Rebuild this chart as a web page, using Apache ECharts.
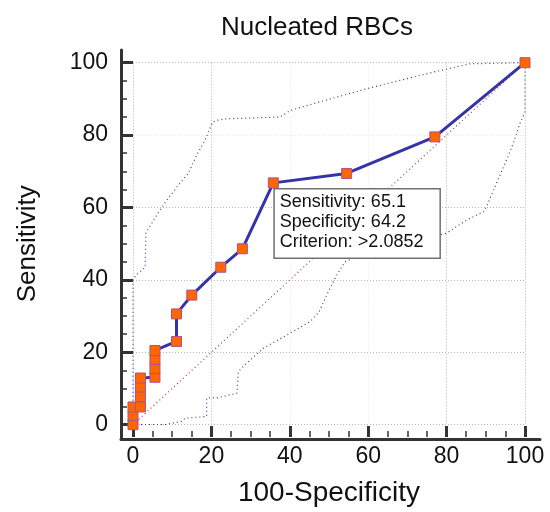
<!DOCTYPE html>
<html>
<head>
<meta charset="utf-8">
<script src="https://cdn.jsdelivr.net/npm/echarts@6/dist/echarts.min.js"></script>
<style>
html,body{margin:0;padding:0;background:#fff;}
#chart{width:550px;height:512px;}
</style>
</head>
<body>
<div id="chart"></div>
<script>
// ---- data ----
const titleText = 'Nucleated RBCs';
const xName = '100-Specificity';
const yName = 'Sensitivity';
const tickValues = [0, 20, 40, 60, 80, 100];

// ROC curve points (100-Specificity, Sensitivity)
const rocX = [0, 0, 0, 1.9, 1.9, 1.9, 1.9, 5.6, 5.6, 5.6, 5.6, 11.1, 11.1, 15.0, 22.4, 27.9, 35.8, 54.5, 77.0, 100];
const rocY = [0, 2.5, 4.9, 4.9, 7.8, 10.4, 12.9, 13.1, 15.5, 18.0, 20.5, 23.0, 30.6, 35.8, 43.5, 48.6, 66.8, 69.4, 79.5, 100];

// upper confidence bound
const upperX = [0, 0, 0.9, 3.1, 3.2, 3.3, 5.9, 6.9, 8.6, 11.6, 14.1, 16.2, 18.4, 20.3, 21.4, 23.9, 37.5, 40.1, 47.7, 59.6, 68.1, 76.6, 86.0, 100];
const upperY = [0, 40, 41.4, 43.5, 48.5, 53.0, 57.6, 59.3, 62.0, 66.2, 69.4, 74.4, 78.6, 83.6, 84.1, 84.5, 85.0, 86.8, 89.2, 92.8, 95.1, 97.4, 99.7, 100];

// lower confidence bound
const lowerX = [0, 8.0, 12.4, 13.3, 18.8, 18.8, 21.4, 26.5, 26.9, 29.0, 33.2, 40.1, 45.2, 47.5, 49.4, 52.0, 54.1, 57.1, 65.0, 72.0, 80.0, 85.1, 89.4, 90.2, 92.3, 94.9, 97.0, 98.7, 100, 100];
const lowerY = [0, 0, 0.9, 1.8, 2.3, 7.4, 7.4, 8.7, 14.7, 17.0, 21.1, 25.3, 28.5, 31.2, 35.8, 41.4, 45.0, 46.4, 48.5, 50.7, 52.9, 56.5, 58.8, 60.2, 65.7, 72.1, 77.7, 83.2, 86.4, 100];

// reference diagonal
const diagX = [0, 100];
const diagY = [0, 100];

// annotation at the chosen criterion
const annotIndex = 16;
const annotSens = '65.1';
const annotSpec = '64.2';
const annotCrit = '>2.0852';

// ---- chart ----
const FONT = '"Liberation Sans", Arial, Helvetica, sans-serif';
const zip = (xs, ys) => xs.map((x, i) => [x, ys[i]]);

const rocData = zip(rocX, rocY).map((p, i) => {
  if (i !== annotIndex) return p;
  return {
    value: p,
    label: {
      show: true,
      position: [7, 12],
      align: 'left',
      verticalAlign: 'top',
      formatter: 'Sensitivity: ' + annotSens + '\nSpecificity: ' + annotSpec + '\nCriterion: ' + annotCrit,
      fontFamily: FONT,
      fontSize: 18,
      lineHeight: 20,
      color: '#111',
      backgroundColor: '#fff',
      borderColor: '#707070',
      borderWidth: 1.5,
      padding: [3, 16, 5, 5]
    }
  };
});

const VIS = '#b4b4b4', FAINT = '#e8e8e8';

const chart = echarts.init(document.getElementById('chart'), null, {renderer: 'canvas'});
chart.setOption({
  animation: false,
  backgroundColor: '#fff',
  title: {
    text: titleText, left: 312, top: 10, textAlign: 'center',
    textStyle: {fontFamily: FONT, fontSize: 26, fontWeight: 'normal', color: '#111'}
  },
  grid: [
    {left: 133, top: 62.7, width: 392, height: 364},
    {left: 121, top: 50, width: 419, height: 389}
  ],
  xAxis: [
    {
      gridIndex: 0, type: 'value', min: tickValues[0], max: tickValues[tickValues.length - 1], interval: 20,
      offset: 12.3,
      name: xName, nameLocation: 'middle', nameGap: 42,
      nameTextStyle: {fontFamily: FONT, fontSize: 28, color: '#111'},
      axisLine: {show: false, onZero: false},
      axisTick: {show: true, inside: true, length: 11, lineStyle: {color: '#333', width: 3}},
      minorTick: {show: true, splitNumber: 4, length: 6, lineStyle: {color: '#333', width: 1.5}},
      axisLabel: {fontFamily: FONT, fontSize: 23, color: '#111', margin: 8},
      splitLine: {show: true, lineStyle: {color: [VIS, VIS, FAINT, FAINT, VIS, VIS], type: [1, 2], width: 1}}
    },
    {
      gridIndex: 1, type: 'value', min: 0, max: 1,
      axisLine: {show: true, onZero: false, lineStyle: {color: '#333', width: 3}},
      axisTick: {show: false}, axisLabel: {show: false}, splitLine: {show: false}
    }
  ],
  yAxis: [
    {
      gridIndex: 0, type: 'value', min: tickValues[0], max: tickValues[tickValues.length - 1], interval: 20,
      offset: 12,
      name: yName, nameLocation: 'middle', nameGap: 80, nameRotate: 90,
      nameTextStyle: {fontFamily: FONT, fontSize: 26, color: '#111'},
      axisLine: {show: false, onZero: false},
      axisTick: {show: true, inside: true, length: 12, lineStyle: {color: '#333', width: 3}},
      minorTick: {show: true, splitNumber: 4, length: 6, lineStyle: {color: '#333', width: 1.5}},
      axisLabel: {fontFamily: FONT, fontSize: 23, color: '#111', margin: 13},
      splitLine: {show: true, lineStyle: {color: [VIS, VIS, VIS, VIS, FAINT, VIS], type: [1, 2], width: 1}}
    },
    {
      gridIndex: 1, type: 'value', min: 0, max: 1,
      axisLine: {show: true, onZero: false, lineStyle: {color: '#333', width: 3}},
      axisTick: {show: false}, axisLabel: {show: false}, splitLine: {show: false}
    }
  ],
  series: [
    {
      type: 'line', xAxisIndex: 0, yAxisIndex: 0, data: zip(diagX, diagY),
      symbol: 'none', silent: true, z: 2,
      lineStyle: {color: '#a83848', width: 1.2, type: [1, 3]}
    },
    {
      type: 'line', xAxisIndex: 0, yAxisIndex: 0, data: zip(upperX, upperY),
      symbol: 'none', silent: true, z: 2,
      lineStyle: {color: '#3a3aa0', width: 1.2, type: [1, 3]}
    },
    {
      type: 'line', xAxisIndex: 0, yAxisIndex: 0, data: zip(lowerX, lowerY),
      symbol: 'none', silent: true, z: 2,
      lineStyle: {color: '#3a3aa0', width: 1.2, type: [1, 3]}
    },
    {
      type: 'line', xAxisIndex: 0, yAxisIndex: 0, data: rocData,
      symbol: 'rect', symbolSize: 10, silent: true, z: 5,
      lineStyle: {color: '#3434a8', width: 3},
      itemStyle: {color: '#ff6600', borderColor: '#b0508a', borderWidth: 1}
    }
  ]
});
</script>
</body>
</html>
